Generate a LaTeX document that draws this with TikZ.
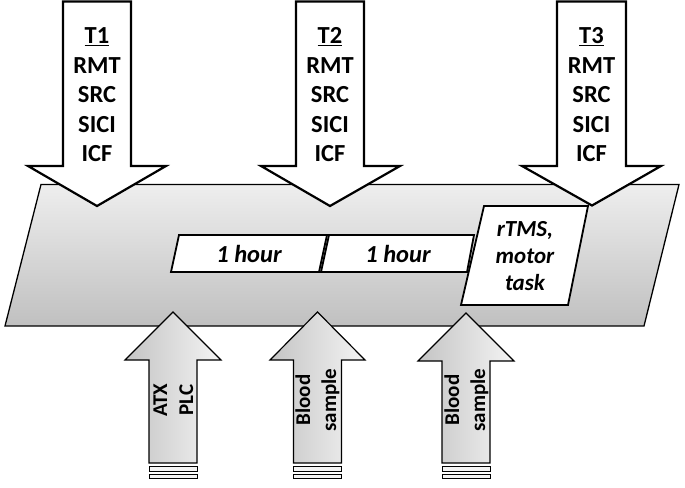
\documentclass[tikz,border=0pt]{standalone}
\usepackage{fontspec}
\setmainfont{Carlito}
\usepackage{tikz}
\definecolor{bandtop}{RGB}{238,238,238}
\definecolor{bandbottom}{RGB}{192,192,192}
\definecolor{tailgray}{RGB}{196,196,196}
\definecolor{headgray}{RGB}{244,244,244}
\tikzset{
  timearrow/.style={fill=white, draw=black, line width=2.2pt},
  samplearrow/.style={left color=tailgray, right color=headgray, draw=black, line width=1.2pt},
  tailbar/.style={fill=headgray, draw=black, line width=1pt},
  phasebox/.style={fill=white, draw=black, line width=1.8pt},
  toplabel/.style={align=center, font=\bfseries\fontsize{24.5}{29.5}\selectfont},
  sidelabel/.style={align=center, rotate=90, font=\bfseries\fontsize{21}{26}\selectfont},
  boxlabel/.style={align=center, font=\bfseries\itshape\fontsize{23}{27}\selectfont}
}

\begin{document}
\begin{tikzpicture}[x=1pt, y=-1pt]
\useasboundingbox (0,0) rectangle (685,487);

% session band
\draw[top color=bandtop, bottom color=bandbottom, draw=black, line width=1.3pt] (41,184.5) -- (679,184.5) -- (644,326) -- (5,326) -- cycle;

% phases inside the session
\filldraw[phasebox] (179,235) -- (327,235) -- (319,272) -- (171,272) -- cycle;
\filldraw[phasebox] (329,235) -- (474,235) -- (467,272) -- (321,272) -- cycle;
\filldraw[phasebox] (484,206) -- (588,206) -- (568,305) -- (461,305) -- cycle;
\node[boxlabel, font=\bfseries\itshape\fontsize{24.5}{27}\selectfont] (hour1) at (249,254) {1 hour};
\node[boxlabel, font=\bfseries\itshape\fontsize{24.5}{27}\selectfont] (hour2) at (398,254) {1 hour};
\node[boxlabel] (stim) at (525,256) {rTMS,\\motor\\task};

% measurements T1 - T3
\filldraw[timearrow] (63,1.5) -- (131,1.5) -- (131,166) -- (166,166) -- (97,206) -- (28,166) -- (63,166) -- cycle;
\filldraw[timearrow] (296,1.5) -- (364,1.5) -- (364,166) -- (400,166) -- (330,206) -- (261,166) -- (296,166) -- cycle;
\filldraw[timearrow] (557,1.5) -- (626,1.5) -- (626,166) -- (661,166) -- (592,205.5) -- (522,166) -- (557,166) -- cycle;
\node[toplabel] (t1) at (97,95) {\underline{T1}\\RMT\\SRC\\SICI\\ICF};
\node[toplabel] (t2) at (330,95) {\underline{T2}\\RMT\\SRC\\SICI\\ICF};
\node[toplabel] (t3) at (591.5,95) {\underline{T3}\\RMT\\SRC\\SICI\\ICF};

% drug intake and blood samples
\draw[samplearrow] (149,463) -- (149,360) -- (125,360) -- (173,312) -- (221,360) -- (197,360) -- (197,463) -- cycle;
\draw[samplearrow] (293.5,463) -- (293.5,360) -- (270,360) -- (317.5,312) -- (365,360) -- (341.5,360) -- (341.5,463) -- cycle;
\draw[samplearrow] (442,463) -- (442,361) -- (418,361) -- (466,313) -- (514,361) -- (490,361) -- (490,463) -- cycle;
\filldraw[tailbar] (149,466.5) rectangle (197,471.5);
\filldraw[tailbar] (149,474) rectangle (197,478);
\filldraw[tailbar] (293.5,466.5) rectangle (341.5,471.5);
\filldraw[tailbar] (293.5,474) rectangle (341.5,478);
\filldraw[tailbar] (442,466.5) rectangle (490,471.5);
\filldraw[tailbar] (442,474) rectangle (490,478);
\node[sidelabel] (drug) at (173.5,400) {ATX\\PLC};
\node[sidelabel] (blood1) at (317.5,400) {Blood\\sample};
\node[sidelabel] (blood2) at (466.5,400) {Blood\\sample};

\end{tikzpicture}
\end{document}
